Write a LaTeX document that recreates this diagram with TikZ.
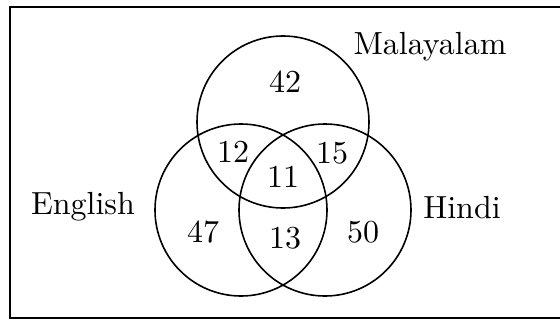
\documentclass[tikz,border=0pt]{standalone}
\newcommand{\bigtxt}[1]{\scalebox{3.2}{\fontsize{10}{12}\selectfont #1}}
\begin{document}
\begin{tikzpicture}[x=1pt,y=1pt,
  setc/.style={circle, draw, line width=1.6pt, minimum size=172pt, inner sep=0pt},
  lab/.style={inner sep=0pt},
  num/.style={inner sep=0pt}]
\useasboundingbox (0,0) rectangle (560,322);
\clip (0,0) rectangle (560,322);
\draw[line width=2.2pt] (10,4) rectangle (600,315);
\node[setc] (M) at (283,200) {};
\node[setc] (E) at (241,112) {};
\node[setc] (H) at (325,112) {};
\node[lab] (lm) at (430,275) {\bigtxt{Malayalam}};
\node[lab] (le) at (83,115) {\bigtxt{English}};
\node[lab] (lh) at (462,114) {\bigtxt{Hindi}};
\node[num] (n42) at (285,240) {\bigtxt{42}};
\node[num] (n12) at (233,170) {\bigtxt{12}};
\node[num] (n15) at (332,169) {\bigtxt{15}};
\node[num] (n11) at (283,145) {\bigtxt{11}};
\node[num] (n47) at (203,90) {\bigtxt{47}};
\node[num] (n13) at (285,84) {\bigtxt{13}};
\node[num] (n50) at (363,90) {\bigtxt{50}};
\end{tikzpicture}
\end{document}
